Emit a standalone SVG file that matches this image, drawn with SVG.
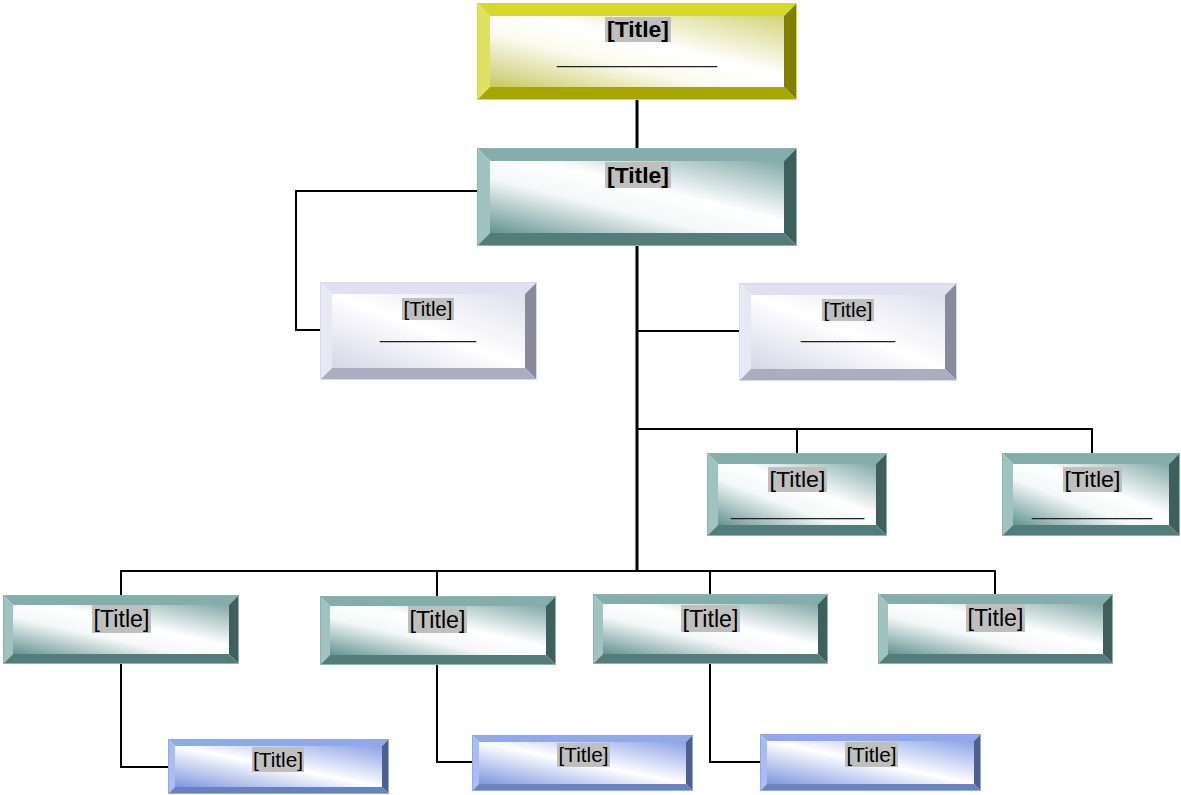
<svg xmlns="http://www.w3.org/2000/svg" width="1181" height="795" viewBox="0 0 1181 795">
<style>
.t{font-family:"Liberation Sans",Arial,sans-serif;fill:#000;text-anchor:middle}
.tb{font-weight:bold}
.u{font-family:"Liberation Sans",Arial,sans-serif;fill:#222;text-anchor:middle}
.hl{fill:#BFBFBF}
.yT{fill:#D8D82A}.yL{fill:#E0E062}.yR{fill:#808000}.yB{fill:#A6A600}.yO{fill:none;stroke:#D8D838;stroke-width:1}
.gT{fill:#84AEAB}.gL{fill:#A0C3C0}.gR{fill:#3F5F5D}.gB{fill:#537D7A}.gO{fill:none;stroke:#8BB3B0;stroke-width:1}
.lT{fill:#E0E0F0}.lL{fill:#E8E8F5}.lR{fill:#8A8A9A}.lB{fill:#ADADC0}.lO{fill:none;stroke:#D8D8EC;stroke-width:1}
.bT{fill:#90A9EC}.bL{fill:#A8BDF2}.bR{fill:#4F6090}.bB{fill:#6A82C2}.bO{fill:none;stroke:#90A8EC;stroke-width:1}
.c{fill:none;stroke:#000;stroke-width:2}
.ck{fill:none;stroke:#000;stroke-width:3}
</style>
<defs>
<linearGradient id="gy" x1="1" y1="0" x2="0" y2="1"><stop offset="0" stop-color="#D4D47A"/><stop offset="0.42" stop-color="#FFFFFF"/><stop offset="0.62" stop-color="#FBFBF0"/><stop offset="1" stop-color="#C8C862"/></linearGradient>
<linearGradient id="gg" x1="1" y1="0" x2="0" y2="1"><stop offset="0" stop-color="#82A9A7"/><stop offset="0.42" stop-color="#FFFFFF"/><stop offset="0.62" stop-color="#F4F8F8"/><stop offset="1" stop-color="#649391"/></linearGradient>
<linearGradient id="gl" x1="1" y1="0" x2="0" y2="1"><stop offset="0" stop-color="#E0E0EE"/><stop offset="0.5" stop-color="#FFFFFF"/><stop offset="1" stop-color="#D6D6E8"/></linearGradient>
<linearGradient id="gb" x1="1" y1="0" x2="0" y2="1"><stop offset="0" stop-color="#8CA2E4"/><stop offset="0.5" stop-color="#FFFFFF"/><stop offset="1" stop-color="#7E96DE"/></linearGradient>
</defs>
<rect width="1181" height="795" fill="#FFFFFF"/>

<g id="connectors">
<line class="ck" x1="637" y1="100" x2="637" y2="148"/>
<line class="ck" x1="637" y1="246" x2="637" y2="572"/>
<polyline class="c" points="477,191 296,191 296,330 320,330"/>
<line class="c" x1="637" y1="331" x2="739" y2="331"/>
<polyline class="c" points="637,429 1092,429 1092,453"/>
<line class="c" x1="797" y1="429" x2="797" y2="453"/>
<polyline class="c" points="121,595 121,571 995,571 995,594"/>
<line class="c" x1="437" y1="571" x2="437" y2="596"/>
<line class="c" x1="710" y1="571" x2="710" y2="594"/>
<polyline class="c" points="121,664 121,767 168,767"/>
<polyline class="c" points="437,665 437,762 472,762"/>
<polyline class="c" points="710,664 710,762 760,762"/>
</g>

<g id="n1">
<polygon class="yT" points="477,3 797,3 784,16 490,16"/>
<polygon class="yL" points="477,3 490,16 490,87 477,100"/>
<polygon class="yR" points="797,3 797,100 784,87 784,16"/>
<polygon class="yB" points="477,100 797,100 784,87 490,87"/>
<rect x="490" y="16" width="294" height="71" fill="url(#gy)"/>
<rect class="yO" x="477.5" y="3.5" width="319" height="96"/>
<rect class="hl" x="605" y="17" width="66" height="25"/>
<text class="t tb" x="638" y="37" font-size="22" textLength="62" lengthAdjust="spacingAndGlyphs">[Title]</text>
<text class="u" x="637" y="63" font-size="20" textLength="160" lengthAdjust="spacingAndGlyphs">______________</text>
</g>

<g id="n2">
<polygon class="gT" points="477,148 797,148 784,161 490,161"/>
<polygon class="gL" points="477,148 490,161 490,233 477,246"/>
<polygon class="gR" points="797,148 797,246 784,233 784,161"/>
<polygon class="gB" points="477,246 797,246 784,233 490,233"/>
<rect x="490" y="161" width="294" height="72" fill="url(#gg)"/>
<rect class="gO" x="477.5" y="148.5" width="319" height="97"/>
<rect class="hl" x="605" y="162" width="66" height="26"/>
<text class="t tb" x="638" y="183" font-size="22" textLength="62" lengthAdjust="spacingAndGlyphs">[Title]</text>
</g>

<g id="n3">
<polygon class="lT" points="320,282 537,282 525,294 332,294"/>
<polygon class="lL" points="320,282 332,294 332,368 320,380"/>
<polygon class="lR" points="537,282 537,380 525,368 525,294"/>
<polygon class="lB" points="320,380 537,380 525,368 332,368"/>
<rect x="332" y="294" width="193" height="74" fill="url(#gl)"/>
<rect class="lO" x="320.5" y="282.5" width="216" height="97"/>
<rect class="hl" x="402" y="298" width="52" height="22"/>
<text class="t" x="428" y="316" font-size="20" textLength="49" lengthAdjust="spacingAndGlyphs">[Title]</text>
<text class="u" x="428" y="338" font-size="19" textLength="96" lengthAdjust="spacingAndGlyphs">_________</text>
</g>

<g id="n4">
<polygon class="lT" points="739,283 957,283 945,295 751,295"/>
<polygon class="lL" points="739,283 751,295 751,369 739,381"/>
<polygon class="lR" points="957,283 957,381 945,369 945,295"/>
<polygon class="lB" points="739,381 957,381 945,369 751,369"/>
<rect x="751" y="295" width="194" height="74" fill="url(#gl)"/>
<rect class="lO" x="739.5" y="283.5" width="217" height="97"/>
<rect class="hl" x="822" y="299" width="52" height="22"/>
<text class="t" x="848" y="317" font-size="20" textLength="49" lengthAdjust="spacingAndGlyphs">[Title]</text>
<text class="u" x="848" y="338" font-size="19" textLength="94" lengthAdjust="spacingAndGlyphs">_________</text>
</g>

<g id="n5">
<polygon class="gT" points="707,453 887,453 876,464 718,464"/>
<polygon class="gL" points="707,453 718,464 718,525 707,536"/>
<polygon class="gR" points="887,453 887,536 876,525 876,464"/>
<polygon class="gB" points="707,536 887,536 876,525 718,525"/>
<rect x="718" y="464" width="158" height="61" fill="url(#gg)"/>
<rect class="gO" x="707.5" y="453.5" width="179" height="82"/>
<rect class="hl" x="768" y="467" width="59" height="25"/>
<text class="t" x="797.5" y="487" font-size="22" textLength="56" lengthAdjust="spacingAndGlyphs">[Title]</text>
<text class="u" x="797.5" y="515" font-size="20" textLength="133" lengthAdjust="spacingAndGlyphs">___________</text>
</g>

<g id="n6">
<polygon class="gT" points="1002,453 1180,453 1169,464 1013,464"/>
<polygon class="gL" points="1002,453 1013,464 1013,525 1002,536"/>
<polygon class="gR" points="1180,453 1180,536 1169,525 1169,464"/>
<polygon class="gB" points="1002,536 1180,536 1169,525 1013,525"/>
<rect x="1013" y="464" width="156" height="61" fill="url(#gg)"/>
<rect class="gO" x="1002.5" y="453.5" width="177" height="82"/>
<rect class="hl" x="1063" y="467" width="59" height="25"/>
<text class="t" x="1092.5" y="487" font-size="22" textLength="56" lengthAdjust="spacingAndGlyphs">[Title]</text>
<text class="u" x="1092" y="515" font-size="20" textLength="120" lengthAdjust="spacingAndGlyphs">__________</text>
</g>

<g id="n7">
<polygon class="gT" points="3,595 239,595 229,605 13,605"/>
<polygon class="gL" points="3,595 13,605 13,654 3,664"/>
<polygon class="gR" points="239,595 239,664 229,654 229,605"/>
<polygon class="gB" points="3,664 239,664 229,654 13,654"/>
<rect x="13" y="605" width="216" height="49" fill="url(#gg)"/>
<rect class="gO" x="3.5" y="595.5" width="235" height="68"/>
<rect class="hl" x="92" y="605" width="59" height="28"/>
<text class="t" x="121.5" y="627" font-size="23" textLength="56" lengthAdjust="spacingAndGlyphs">[Title]</text>
</g>

<g id="n8">
<polygon class="gT" points="320,596 556,596 546,606 330,606"/>
<polygon class="gL" points="320,596 330,606 330,655 320,665"/>
<polygon class="gR" points="556,596 556,665 546,655 546,606"/>
<polygon class="gB" points="320,665 556,665 546,655 330,655"/>
<rect x="330" y="606" width="216" height="49" fill="url(#gg)"/>
<rect class="gO" x="320.5" y="596.5" width="235" height="68"/>
<rect class="hl" x="408" y="606" width="59" height="27"/>
<text class="t" x="437.5" y="628" font-size="23" textLength="56" lengthAdjust="spacingAndGlyphs">[Title]</text>
</g>

<g id="n9">
<polygon class="gT" points="593,594 828,594 818,604 603,604"/>
<polygon class="gL" points="593,594 603,604 603,654 593,664"/>
<polygon class="gR" points="828,594 828,664 818,654 818,604"/>
<polygon class="gB" points="593,664 828,664 818,654 603,654"/>
<rect x="603" y="604" width="215" height="50" fill="url(#gg)"/>
<rect class="gO" x="593.5" y="594.5" width="234" height="69"/>
<rect class="hl" x="681" y="605" width="59" height="27"/>
<text class="t" x="710.5" y="627" font-size="23" textLength="56" lengthAdjust="spacingAndGlyphs">[Title]</text>
</g>

<g id="n10">
<polygon class="gT" points="878,594 1113,594 1103,604 888,604"/>
<polygon class="gL" points="878,594 888,604 888,654 878,664"/>
<polygon class="gR" points="1113,594 1113,664 1103,654 1103,604"/>
<polygon class="gB" points="878,664 1113,664 1103,654 888,654"/>
<rect x="888" y="604" width="215" height="50" fill="url(#gg)"/>
<rect class="gO" x="878.5" y="594.5" width="234" height="69"/>
<rect class="hl" x="966" y="604" width="59" height="28"/>
<text class="t" x="995.5" y="626" font-size="23" textLength="56" lengthAdjust="spacingAndGlyphs">[Title]</text>
</g>

<g id="n11">
<polygon class="bT" points="168,739 389,739 382,746 175,746"/>
<polygon class="bL" points="168,739 175,746 175,787 168,794"/>
<polygon class="bR" points="389,739 389,794 382,787 382,746"/>
<polygon class="bB" points="168,794 389,794 382,787 175,787"/>
<rect x="175" y="746" width="207" height="41" fill="url(#gb)"/>
<rect class="bO" x="168.5" y="739.5" width="220" height="54"/>
<rect class="hl" x="252" y="747" width="52" height="25"/>
<text class="t" x="278" y="767" font-size="21" textLength="50" lengthAdjust="spacingAndGlyphs">[Title]</text>
</g>

<g id="n12">
<polygon class="bT" points="472,735 693,735 686,742 479,742"/>
<polygon class="bL" points="472,735 479,742 479,784 472,791"/>
<polygon class="bR" points="693,735 693,791 686,784 686,742"/>
<polygon class="bB" points="472,791 693,791 686,784 479,784"/>
<rect x="479" y="742" width="207" height="42" fill="url(#gb)"/>
<rect class="bO" x="472.5" y="735.5" width="220" height="55"/>
<rect class="hl" x="557" y="743" width="53" height="24"/>
<text class="t" x="583.5" y="762" font-size="21" textLength="50" lengthAdjust="spacingAndGlyphs">[Title]</text>
</g>

<g id="n13">
<polygon class="bT" points="760,734 981,734 974,741 767,741"/>
<polygon class="bL" points="760,734 767,741 767,784 760,791"/>
<polygon class="bR" points="981,734 981,791 974,784 974,741"/>
<polygon class="bB" points="760,791 981,791 974,784 767,784"/>
<rect x="767" y="741" width="207" height="43" fill="url(#gb)"/>
<rect class="bO" x="760.5" y="734.5" width="220" height="56"/>
<rect class="hl" x="845" y="742" width="53" height="25"/>
<text class="t" x="871.5" y="762" font-size="21" textLength="50" lengthAdjust="spacingAndGlyphs">[Title]</text>
</g>
</svg>
